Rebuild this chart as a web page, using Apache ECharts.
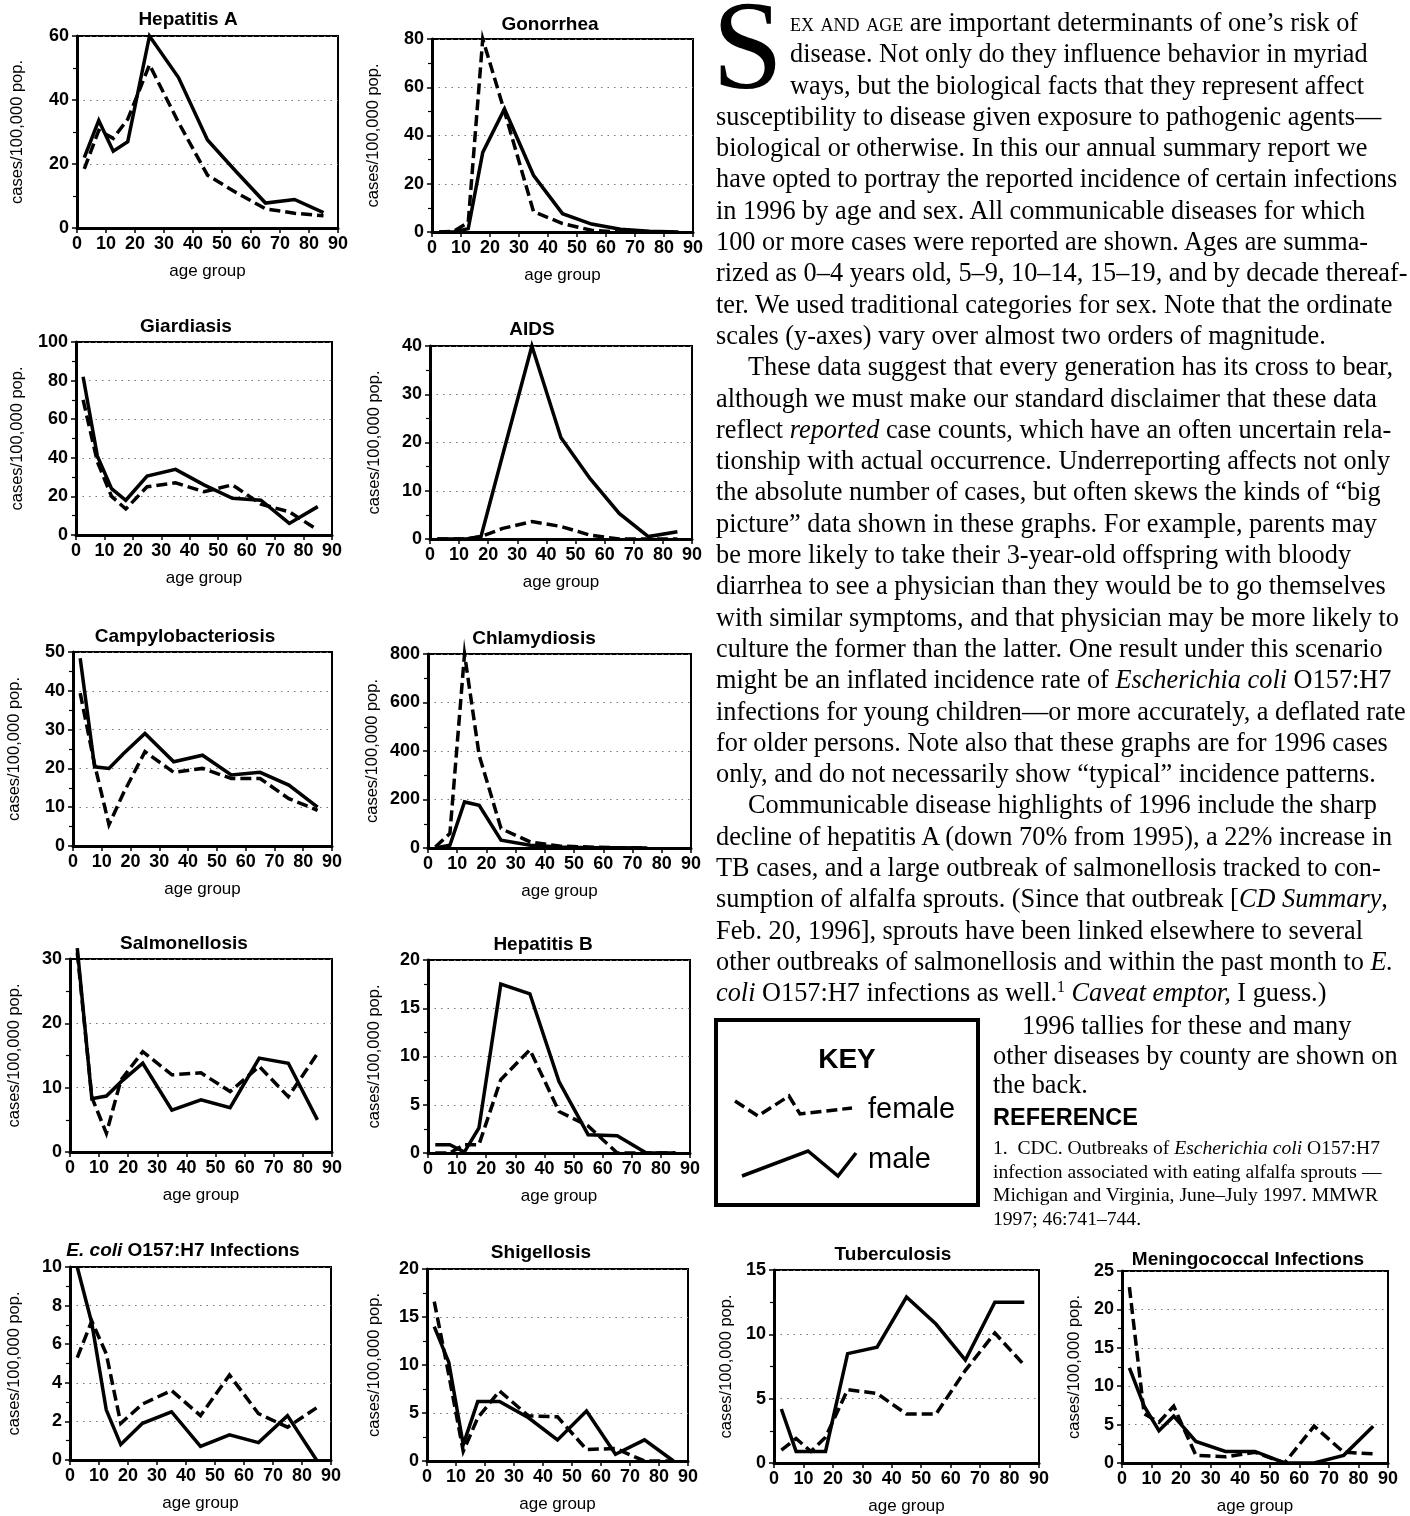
<!DOCTYPE html>
<html><head><meta charset="utf-8">
<script src="https://cdn.jsdelivr.net/npm/echarts@6/dist/echarts.min.js"></script>
<style>
html,body{margin:0;padding:0;background:#fff;}
#chart{position:absolute;left:0;top:0;width:1410px;height:1516px;}
#txt{position:absolute;left:716px;top:7px;font-family:'Liberation Serif','Times New Roman',serif;font-size:26.3px;line-height:31.3px;color:#000;white-space:nowrap;}
#txt .c{padding-left:74px;}
#txt .p{padding-left:32px;}
#drop{position:absolute;left:712px;top:-19px;font-family:'Liberation Serif',serif;font-size:128px;line-height:1;color:#000;}
.sc{font-variant:small-caps;}
#txt2{position:absolute;left:993px;top:1011px;font-family:'Liberation Serif',serif;font-size:26.3px;line-height:29.5px;white-space:nowrap;}
#refh{position:absolute;left:993px;top:1104px;font-family:'Liberation Sans',Arial,sans-serif;font-weight:bold;font-size:23.5px;}
#ref{position:absolute;left:993px;top:1136px;font-family:'Liberation Serif',serif;font-size:19.6px;line-height:23.5px;white-space:nowrap;}
sup{font-size:60%;line-height:0;vertical-align:0.6em;}
</style></head><body>
<div id="chart"></div>
<div id="drop">S</div>
<div id="txt">
<div class="c"><span class="sc">ex and age</span> are important determinants of one’s risk of</div>
<div class="c">disease. Not only do they influence behavior in myriad</div>
<div class="c">ways, but the biological facts that they represent affect</div>
<div>susceptibility to disease given exposure to pathogenic agents—</div>
<div>biological or otherwise. In this our annual summary report we</div>
<div>have opted to portray the reported incidence of certain infections</div>
<div>in 1996 by age and sex. All communicable diseases for which</div>
<div>100 or more cases were reported are shown. Ages are summa-</div>
<div>rized as 0–4 years old, 5–9, 10–14, 15–19, and by decade thereaf-</div>
<div>ter. We used traditional categories for sex. Note that the ordinate</div>
<div>scales (y-axes) vary over almost two orders of magnitude.</div>
<div class="p">These data suggest that every generation has its cross to bear,</div>
<div>although we must make our standard disclaimer that these data</div>
<div>reflect <i>reported</i> case counts, which have an often uncertain rela-</div>
<div>tionship with actual occurrence. Underreporting affects not only</div>
<div>the absolute number of cases, but often skews the kinds of “big</div>
<div>picture” data shown in these graphs. For example, parents may</div>
<div>be more likely to take their 3-year-old offspring with bloody</div>
<div>diarrhea to see a physician than they would be to go themselves</div>
<div>with similar symptoms, and that physician may be more likely to</div>
<div>culture the former than the latter. One result under this scenario</div>
<div>might be an inflated incidence rate of <i>Escherichia coli</i> O157:H7</div>
<div>infections for young children—or more accurately, a deflated rate</div>
<div>for older persons. Note also that these graphs are for 1996 cases</div>
<div>only, and do not necessarily show “typical” incidence patterns.</div>
<div class="p">Communicable disease highlights of 1996 include the sharp</div>
<div>decline of hepatitis A (down 70% from 1995), a 22% increase in</div>
<div>TB cases, and a large outbreak of salmonellosis tracked to con-</div>
<div>sumption of alfalfa sprouts. (Since that outbreak [<i>CD Summary</i>,</div>
<div>Feb. 20, 1996], sprouts have been linked elsewhere to several</div>
<div>other outbreaks of salmonellosis and within the past month to <i>E.</i></div>
<div><i>coli</i> O157:H7 infections as well.<sup>1</sup> <i>Caveat emptor,</i> I guess.)</div>
</div>
<div id="txt2">
<div style="padding-left:29px">1996 tallies for these and many</div>
<div>other diseases by county are shown on</div>
<div>the back.</div>
</div>
<div id="refh">REFERENCE</div>
<div id="ref">
<div>1.&nbsp; CDC. Outbreaks of <i>Escherichia coli</i> O157:H7</div>
<div>infection associated with eating alfalfa sprouts —</div>
<div>Michigan and Virginia, June–July 1997. MMWR</div>
<div>1997; 46:741–744.</div>
</div>
<script>
// ---- data ----
const ages = [2.5, 7.5, 12.5, 17.5, 25, 35, 45, 55, 65, 75, 85];

const hepA_male      = [22, 33.6, 24, 27, 60, 47, 27.5, 17.5, 7.8, 8.9, 4.8];
const hepA_female    = [18.5, 30.5, 28, 34, 51, 33, 16.5, 11, 6, 4.6, 3.8];
const gon_male       = [0, 0, 1.4, 33, 51, 23.5, 7.6, 3.3, 1.1, 0.3, 0];
const gon_female     = [0, 0.3, 4, 80, 50, 8.5, 3.5, 0.7, 0, 0, 0];
const giard_male     = [82, 41, 24, 18, 30.5, 34, 26, 19, 18, 6, 14.7];
const giard_female   = [70, 38, 20, 13.5, 25, 27, 22.4, 26, 16, 12, 2.6];
const aids_male      = [0, 0, 0, 0.5, 17.5, 40, 21, 12.5, 5.3, 0.5, 1.5];
const aids_female    = [0, 0, 0, 0.5, 2.2, 3.6, 2.6, 0.8, 0, 0, 0];
const campy_male     = [48.4, 20.4, 20, 23.8, 29, 21.7, 23.4, 18.3, 19, 15.7, 10];
const campy_female   = [39.4, 21, 5.5, 13.6, 24.3, 19, 20, 17.4, 17.4, 12.2, 9.2];
const chlam_male     = [0, 11, 190, 176, 32, 11, 4, 1, 1, 0.5, null];
const chlam_female   = [4, 60, 800, 383, 80, 25, 8, 4, 1, 0, null];
const salm_male      = [31.7, 8.3, 8.7, 10.9, 13.8, 6.5, 8.1, 6.9, 14.6, 13.8, 5];
const salm_female    = [31, 8.5, 2.9, 11.2, 15.6, 12, 12.3, 9.4, 13.3, 8.6, 15.3];
const hepB_male      = [0.86, 0.86, 0.1, 2.6, 17.5, 16.5, 7.4, 1.9, 1.8, 0, 0];
const hepB_female    = [0, 0, 0.86, 0.86, 7.6, 10.7, 4.3, 2.8, 0, 0, 0];
const ecoli_male     = [10, 7.1, 2.6, 0.8, 1.9, 2.5, 0.7, 1.3, 0.9, 2.3, 0];
const ecoli_female   = [5.3, 7.2, 5.5, 1.9, 2.9, 3.6, 2.3, 4.4, 2.4, 1.7, 2.7];
const shig_male      = [14, 10.3, 1.7, 6.2, 6.2, 4.5, 2.2, 5.2, 0.7, 2.2, 0];
const shig_female    = [16.6, 9, 1.0, 4.5, 7.3, 4.7, 4.6, 1.2, 1.3, 0, 0];
const tb_male        = [4.2, 0.9, 0.9, 0.9, 8.5, 9, 12.9, 10.8, 8, 12.5, 12.5];
const tb_female      = [1, 1.9, 0.9, 2, 5.7, 5.4, 3.8, 3.8, 7.2, 10.1, 7.6];
const men_male       = [12.4, 7.4, 4.2, 6.1, 2.8, 1.5, 1.5, 0, 0, 1, 4.8];
const men_female     = [22.9, 6.4, 5.3, 7.4, 1, 0.8, 1.4, 0, 4.8, 1.4, 1.2];

const titles = ['Hepatitis A','Gonorrhea','Giardiasis','AIDS','Campylobacteriosis','Chlamydiosis',
  'Salmonellosis','Hepatitis B','{i|E. coli} O157:H7 Infections','Shigellosis','Tuberculosis','Meningococcal Infections'];
const maleSets   = [hepA_male, gon_male, giard_male, aids_male, campy_male, chlam_male, salm_male, hepB_male, ecoli_male, shig_male, tb_male, men_male];
const femaleSets = [hepA_female, gon_female, giard_female, aids_female, campy_female, chlam_female, salm_female, hepB_female, ecoli_female, shig_female, tb_female, men_female];
const yMax      = [60, 80, 100, 40, 50, 800, 30, 20, 10, 20, 15, 25];
const yInterval = [20, 20, 20, 10, 10, 200, 10, 5, 2, 5, 5, 5];
const yLabel = 'cases/100,000 pop.';
const xLabel = 'age group';
const legendLabels = ['KEY', 'female', 'male'];

// ---- layout (positions/sizes) ----
const L = [
  {l:77,  t:36,   w:261, h:192, tx:188,  ty:20,   g:51},
  {l:432, t:39,   w:261, h:193, tx:550,  ty:25,   g:50},
  {l:76,  t:342,  w:256, h:193, tx:186,  ty:327,  g:50},
  {l:430, t:346,  w:262, h:193, tx:532,  ty:330,  g:47},
  {l:73,  t:652,  w:259, h:194, tx:185,  ty:637,  g:50},
  {l:428, t:654,  w:263, h:194, tx:534,  ty:639,  g:47},
  {l:70,  t:959,  w:262, h:193, tx:184,  ty:944,  g:47},
  {l:428, t:960,  w:262, h:193, tx:543,  ty:945,  g:45},
  {l:70,  t:1267, w:261, h:193, tx:183,  ty:1251, g:47},
  {l:427, t:1269, w:261, h:192, tx:541,  ty:1253, g:44},
  {l:774, t:1270, w:265, h:195, tx:893,  ty:1255, g:39},
  {l:1122,t:1271, w:266, h:195, tx:1248, ty:1260, g:39}
];

const SANS = '"Liberation Sans", Arial, Helvetica, sans-serif';
const grid = [], xAxis = [], yAxis = [], series = [], graphic = [];
L.forEach((p, i) => {
  grid.push({left:p.l, top:p.t, width:p.w, height:p.h, show:true, borderColor:'#000', borderWidth:2, backgroundColor:'transparent', containLabel:false});
  xAxis.push({type:'value', gridIndex:i, min:0, max:90, interval:10,
    name:xLabel, nameLocation:'middle', nameGap:35,
    nameTextStyle:{fontFamily:SANS, fontSize:17, color:'#000'},
    axisLine:{show:true, onZero:false, lineStyle:{color:'#000', width:3}},
    axisTick:{show:true, inside:false, length:5, lineStyle:{color:'#000', width:1.5}},
    axisLabel:{fontFamily:SANS, fontSize:18, fontWeight:'bold', color:'#000', margin:7},
    splitLine:{show:false}});
  yAxis.push({type:'value', gridIndex:i, min:0, max:yMax[i], interval:yInterval[i],
    name:yLabel, nameLocation:'middle', nameGap:p.g, nameRotate:90,
    nameTextStyle:{fontFamily:SANS, fontSize:16.5, color:'#000'},
    axisLine:{show:true, onZero:false, lineStyle:{color:'#000', width:3}},
    axisTick:{show:true, inside:false, length:5, lineStyle:{color:'#000', width:1.5}},
    minorTick:{show:true, splitNumber:2, length:4, lineStyle:{color:'#000', width:1.2}},
    axisLabel:{fontFamily:SANS, fontSize:18, fontWeight:'bold', color:'#000', margin:8},
    splitLine:{show:true, lineStyle:{color:'#777', width:1, type:[1.5,5]}}});
  series.push({type:'line', name:'female', xAxisIndex:i, yAxisIndex:i, symbol:'none', clip:false,
    data: ages.map((a, j) => [a, femaleSets[i][j]]),
    lineStyle:{color:'#000', width:3.5, type:[11,5], cap:'butt', join:'miter'}, z:3});
  series.push({type:'line', name:'male', xAxisIndex:i, yAxisIndex:i, symbol:'none', clip:false,
    data: ages.map((a, j) => [a, maleSets[i][j]]),
    lineStyle:{color:'#000', width:3.5, type:'solid', join:'miter'}, z:4});
  graphic.push({type:'text', x:p.tx, y:p.ty, z:10,
    style:{text:titles[i], fill:'#000', font:'bold 19px ' + SANS, textAlign:'center', textVerticalAlign:'middle',
      rich:{i:{fontStyle:'italic', fontWeight:'bold', fontSize:19, fontFamily:SANS, fill:'#000'}}}});
});

// key box
graphic.push({type:'rect', shape:{x:716, y:1020, width:262, height:185}, style:{fill:'#fff', stroke:'#000', lineWidth:4}, z:1});
graphic.push({type:'text', x:847, y:1060, style:{text:legendLabels[0], font:'bold 28px ' + SANS, fill:'#000', textAlign:'center', textVerticalAlign:'middle'}, z:2});
graphic.push({type:'polyline', shape:{points:[[735,1101],[758,1116],[789,1096],[800,1114],[852,1108]]}, style:{stroke:'#000', lineWidth:3.5, lineDash:[11,5], fill:null}, z:2});
graphic.push({type:'text', x:868, y:1110, style:{text:legendLabels[1], font:'29px ' + SANS, fill:'#000', textAlign:'left', textVerticalAlign:'middle'}, z:2});
graphic.push({type:'polyline', shape:{points:[[742,1176],[808,1151],[838,1176],[856,1153]]}, style:{stroke:'#000', lineWidth:3.5, fill:null}, z:2});
graphic.push({type:'text', x:868, y:1160, style:{text:legendLabels[2], font:'29px ' + SANS, fill:'#000', textAlign:'left', textVerticalAlign:'middle'}, z:2});

const chart = echarts.init(document.getElementById('chart'), null, {renderer:'canvas'});
chart.setOption({animation:false, backgroundColor:'#fff', grid, xAxis, yAxis, series, graphic});
</script>
</body></html>
